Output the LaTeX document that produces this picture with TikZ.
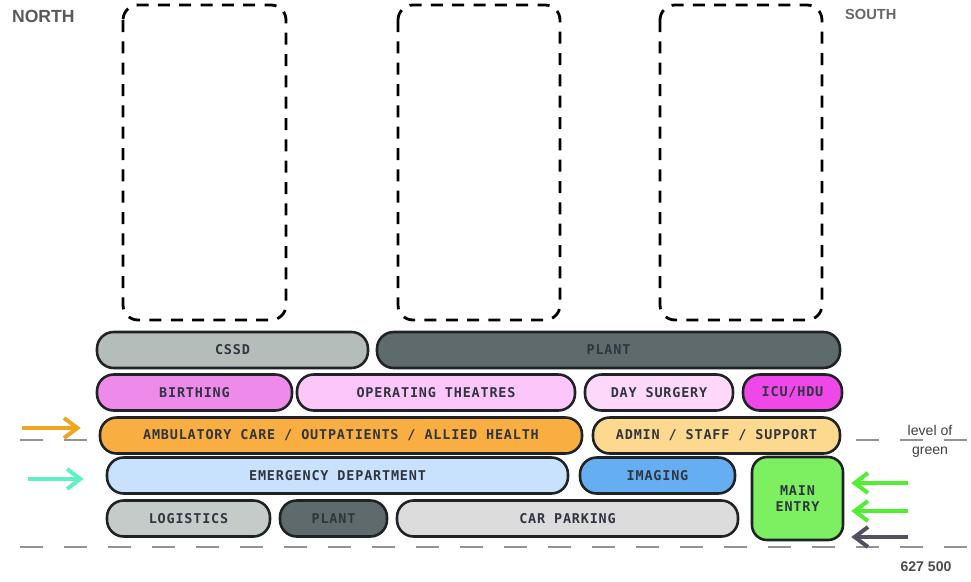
\documentclass[tikz,border=0pt]{standalone}
\usepackage{fontspec}
\newfontfamily\roomfont[LetterSpace=6]{DejaVu Sans Mono}
\newfontfamily\notefont{Liberation Sans}
\usetikzlibrary{arrows.meta}
\definecolor{edge}{HTML}{1F2326}
\definecolor{roomtxt}{HTML}{303540}
\definecolor{slate}{HTML}{5E6A6C}
\definecolor{sage}{HTML}{B4BDB9}
\definecolor{sagelt}{HTML}{C5CBC9}
\definecolor{concrete}{HTML}{DCDCDC}
\definecolor{orchid}{HTML}{EE8AEA}
\definecolor{blush}{HTML}{FDC6FA}
\definecolor{blushlt}{HTML}{FDD8FB}
\definecolor{magent}{HTML}{F048E8}
\definecolor{amber}{HTML}{F8AE40}
\definecolor{sand}{HTML}{FDD98F}
\definecolor{sky}{HTML}{C8E1FC}
\definecolor{azure}{HTML}{66AEF2}
\definecolor{lime}{HTML}{7DF062}
\definecolor{arrorange}{HTML}{F2A41E}
\definecolor{arrteal}{HTML}{5FF0C8}
\definecolor{arrgreen}{HTML}{50F030}
\definecolor{arrdark}{HTML}{555060}
\tikzset{
  room/.style={draw=edge,line width=2.2pt,rounded corners=5mm,minimum height=10.8mm,inner sep=0pt,text=roomtxt,font=\roomfont\bfseries\fontsize{11.5}{14}\selectfont},
  ghost/.style={draw=black,line width=2.4pt,dash pattern=on 3.6mm off 2.8mm,rounded corners=4.5mm},
  levelline/.style={draw=gray!85,line width=2pt,dash pattern=on 6.9mm off 6.3mm},
  flow/.style={-{Straight Barb[length=4mm,width=6mm]},line width=1.2mm},
  note/.style={font=\notefont\fontsize{12}{16}\selectfont,text=black!75,align=center}
}

\begin{document}
\begin{tikzpicture}[x=0.3mm,y=-0.3mm]
  \useasboundingbox (0,0) rectangle (971,581);
  % tower outlines above the podium
  \draw[ghost] (123,5) rectangle (286,320);
  \draw[ghost] (398,5) rectangle (560,320);
  \draw[ghost] (660,5) rectangle (822,320);
  % level lines
  \coordinate (gl w) at (20,440);
  \coordinate (gl e) at (971,440);
  \coordinate (gd w) at (20,547);
  \coordinate (gd e) at (971,547);
  \draw[levelline] (gl w) -- (gl e);
  \draw[levelline] (gd w) -- (gd e);
  % podium levels
  \node[room,fill=sage,minimum width=81.3mm] (cssd) at (232.5,350) {CSSD};
  \node[room,fill=slate,minimum width=138.9mm] (plantup) at (608.5,350) {PLANT};
  \node[room,fill=orchid,minimum width=58.5mm] (birth) at (194.5,392.5) {BIRTHING};
  \node[room,fill=blush,minimum width=83.4mm] (theatres) at (436,392.5) {OPERATING THEATRES};
  \node[room,fill=blushlt,minimum width=44.4mm] (daysurg) at (659,392.5) {DAY SURGERY};
  \node[room,fill=magent,minimum width=29.7mm] (icu) at (792.5,392.5) {ICU/HDU};
  \node[room,fill=amber,minimum width=144.6mm] (amb) at (341,435.5) {AMBULATORY CARE / OUTPATIENTS / ALLIED HEALTH};
  \node[room,fill=sand,minimum width=74.1mm] (admin) at (716.5,435.5) {ADMIN / STAFF / SUPPORT};
  \node[room,fill=sky,minimum width=138.3mm] (ed) at (337.5,475.5) {EMERGENCY DEPARTMENT};
  \node[room,fill=azure,minimum width=46.5mm] (imaging) at (657.5,475.5) {IMAGING};
  \node[room,fill=lime,minimum width=27.3mm,minimum height=24.9mm,rounded corners=4.5mm,align=center] (entry) at (797.5,498.5) {MAIN\\ENTRY};
  \node[room,fill=sagelt,minimum width=48.9mm] (logist) at (188.5,518.5) {LOGISTICS};
  \node[room,fill=slate,minimum width=32.1mm] (plantlow) at (333.5,518.5) {PLANT};
  \node[room,fill=concrete,minimum width=102.3mm] (parking) at (567.5,518.5) {CAR PARKING};
  % entries
  \coordinate (ambin) at (22,428);
  \coordinate (edin) at (28,479);
  \coordinate (gin a) at (908,483);
  \coordinate (gin b) at (908,511);
  \coordinate (dock) at (908,537);
  \draw[flow,arrorange,shorten >=5.4mm] (ambin) -- (ambin -| amb.west);
  \draw[flow,arrteal,shorten >=6.6mm] (edin) -- (edin -| ed.west);
  \draw[flow,arrgreen,shorten >=2.1mm] (gin a) -- (gin a -| entry.east);
  \draw[flow,arrgreen,shorten >=2.1mm] (gin b) -- (gin b -| entry.east);
  \draw[flow,arrdark,shorten >=2.1mm] (dock) -- (dock -| entry.east);
  % labels
  \node[font=\notefont\bfseries\fontsize{15}{17}\selectfont,text=black!65,anchor=west] (north) at (8,16) {NORTH};
  \node[font=\notefont\bfseries\fontsize{12.5}{15}\selectfont,text=black!60,anchor=west] (south) at (841,14) {SOUTH};
  \node[note] (green) at (930,441) {level of\\green};
  \node[font=\notefont\bfseries\fontsize{12}{14}\selectfont,text=black!70] (rl) at (926,567) {627 500};
\end{tikzpicture}
\end{document}
